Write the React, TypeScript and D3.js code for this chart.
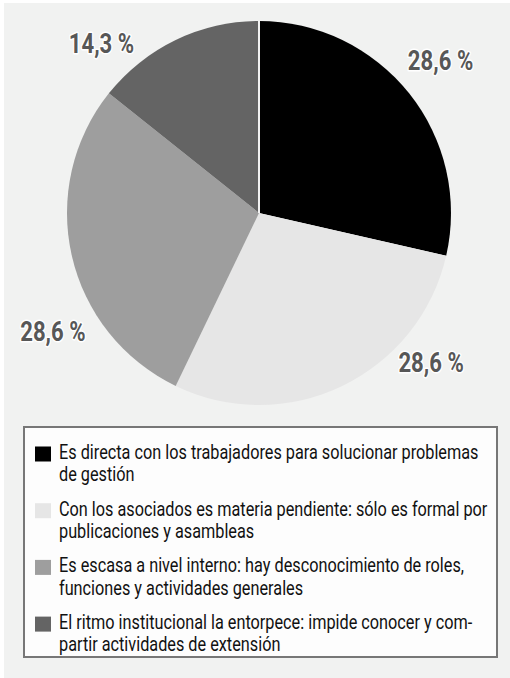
import React from "react";
import * as d3 from "d3";

const categories = [
  ["Es directa con los trabajadores para solucionar problemas", "de gestión"],
  ["Con los asociados es materia pendiente: sólo es formal por", "publicaciones y asambleas"],
  ["Es escasa a nivel interno: hay desconocimiento de roles,", "funciones y actividades generales"],
  ["El ritmo institucional la entorpece: impide conocer y com-", "partir actividades de extensión"],
];
const values = [28.6, 28.6, 28.6, 14.3];
const valueLabels = ["28,6 %", "28,6 %", "28,6 %", "14,3 %"];
const colors = ["#000000", "#e6e6e6", "#9e9e9e", "#646464"];

// layout only (label placement in polar coordinates around pie centre)
const labelAngleDeg = [50, 131, 240, 317];
const labelRadius = [237, 228, 238, 231];

const W = 510;
const H = 678;
const cx = 259;
const cy = 213;
const R = 192;

export default function App() {
  const pie = d3.pie<number>().sort(null).value((d) => d);
  const arcs = pie(values);
  const arcGen = d3.arc<d3.PieArcDatum<number>>().innerRadius(0).outerRadius(R);
  const a0 = arcs[0].startAngle;

  const legendX = 24;
  const legendY = 427;
  const legendW = 473;
  const legendH = 230;
  const rowStart = 459;
  const rowStep = 56.7;
  const lineStep = 22.3;
  const font = "Roboto, 'Noto Sans', sans-serif";

  return (
    <svg
      width={W}
      height={H}
      style={{ position: "absolute", left: 0, top: 0, display: "block" }}
      xmlns="http://www.w3.org/2000/svg"
    >
      <rect x={0} y={0} width={W} height={H} fill="#ffffff" />
      <rect x={4} y={3} width={W - 4} height={H - 3} fill="#f1f2f1" />
      <g transform={`translate(${cx},${cy})`}>
        {arcs.map((a, i) => (
          <path key={i} d={arcGen(a) || ""} fill={colors[i]} />
        ))}
        <line
          x1={0}
          y1={0}
          x2={R * Math.sin(a0)}
          y2={-R * Math.cos(a0)}
          stroke="#f2f2f2"
          strokeWidth={2}
        />
        {valueLabels.map((t, i) => {
          const ang = (labelAngleDeg[i] * Math.PI) / 180;
          const x = labelRadius[i] * Math.sin(ang);
          const y = -labelRadius[i] * Math.cos(ang);
          return (
            <g key={i} transform={`translate(${x},${y}) scale(0.82,1)`}>
              <text
                textAnchor="middle"
                dominantBaseline="central"
                fontFamily={font}
                fontWeight={700}
                fontSize={27}
                fill="#575757"
                stroke="#ffffff"
                strokeWidth={3}
                strokeLinejoin="round"
                style={{ paintOrder: "stroke" }}
              >
                {t}
              </text>
            </g>
          );
        })}
      </g>
      <rect
        x={legendX}
        y={legendY}
        width={legendW}
        height={legendH}
        fill="#fdfdfd"
        stroke="#777777"
        strokeWidth={2}
      />
      {categories.map((lines, i) => {
        const base = rowStart + i * rowStep;
        return (
          <g key={i}>
            <rect x={35} y={base - 12.5} width={16} height={15} fill={colors[i]} />
            {lines.map((ln, j) => (
              <g key={j} transform={`translate(59,${base + j * lineStep}) scale(0.775,1)`}>
                <text fontFamily={font} fontSize={21} fill="#111111">
                  {ln}
                </text>
              </g>
            ))}
          </g>
        );
      })}
    </svg>
  );
}
